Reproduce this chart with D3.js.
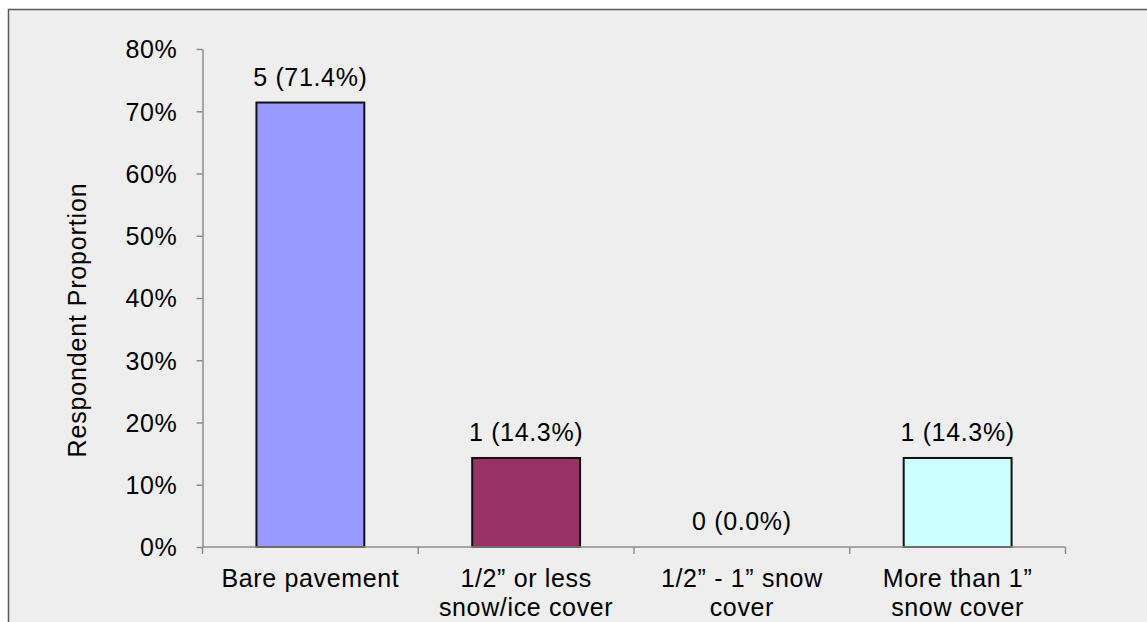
<!DOCTYPE html>
<html><head><meta charset="utf-8">
<script src="https://cdn.jsdelivr.net/npm/d3@7"></script>
<style>html,body{margin:0;padding:0;background:#fff;}svg{display:block;}</style>
</head><body>
<script>
const categories = [["Bare pavement"], ["1/2\u201d or less", "snow/ice cover"], ["1/2\u201d - 1\u201d snow", "cover"], ["More than 1\u201d", "snow cover"]];
const counts = [5, 1, 0, 1];
const proportions = [0.714, 0.143, 0.0, 0.143];
const barColors = ["#9999ff", "#993366", "#ccffff", "#ccffff"];
const yTicks = [0, 0.1, 0.2, 0.3, 0.4, 0.5, 0.6, 0.7, 0.8];

const W = 1147, H = 622;
const svg = d3.select("body").append("svg").attr("width", W).attr("height", H);
svg.append("rect").attr("x", 8.5).attr("y", 9.5).attr("width", W + 10).attr("height", H + 10)
  .attr("fill", "#eeeeee").attr("stroke", "#5a5a5a").attr("stroke-width", 1.5);

const x0 = 202.5, x1 = 1065.5, yTop = 49, yBot = 547;
const x = d3.scaleBand().domain(d3.range(categories.length)).range([x0, x1]).paddingInner(0.5).paddingOuter(0.25);
const y = d3.scaleLinear().domain([0, 0.8]).range([yBot, yTop]);
const font = "'Liberation Sans', Arial, sans-serif";
const fs = 25, ls = 0.65;

// y axis
const ya = svg.append("g").attr("transform", `translate(${x0},0)`)
  .call(d3.axisLeft(y).tickValues(yTicks).tickFormat(d3.format(".0%")).tickSizeInner(6).tickSizeOuter(0).tickPadding(19));
ya.select(".domain").attr("stroke", "#8c8c8c").attr("stroke-width", 1.5);
ya.selectAll(".tick line").attr("stroke", "#8c8c8c").attr("stroke-width", 1.5);
ya.selectAll(".tick text").attr("font-family", font).attr("font-size", fs).attr("letter-spacing", ls).attr("fill", "#000").attr("dy", "0.35em");

// bars
proportions.forEach((d, i) => {
  if (d > 0) {
    svg.append("rect").attr("x", x(i)).attr("y", y(d)).attr("width", x.bandwidth()).attr("height", yBot - y(d))
      .attr("fill", barColors[i]).attr("stroke", "#111").attr("stroke-width", 2);
  }
});

// x axis
const xs = d3.scaleLinear().domain([0, categories.length]).range([x0, x1]);
svg.append("line").attr("x1", x0).attr("x2", x1).attr("y1", yBot).attr("y2", yBot)
  .attr("stroke", "#8c8c8c").attr("stroke-width", 1.5);
d3.range(categories.length + 1).forEach(k => {
  svg.append("line").attr("x1", xs(k)).attr("x2", xs(k)).attr("y1", yBot).attr("y2", yBot + 7)
    .attr("stroke", "#8c8c8c").attr("stroke-width", 1.5);
});

// value labels
proportions.forEach((d, i) => {
  svg.append("text").attr("x", x(i) + x.bandwidth() / 2).attr("y", y(d) - 17)
    .attr("text-anchor", "middle").attr("font-family", font).attr("font-size", fs).attr("letter-spacing", ls).attr("fill", "#000")
    .text(`${counts[i]} (${(d * 100).toFixed(1)}%)`);
});

// category labels
categories.forEach((lines, i) => {
  const t = svg.append("text").attr("text-anchor", "middle").attr("font-family", font).attr("font-size", fs).attr("letter-spacing", ls).attr("fill", "#000");
  lines.forEach((l, j) => {
    t.append("tspan").attr("x", x(i) + x.bandwidth() / 2).attr("y", 587 + j * 29).text(l);
  });
});

// y title
svg.append("text").attr("transform", `translate(86,320) rotate(-90)`)
  .attr("text-anchor", "middle").attr("font-family", font).attr("font-size", fs).attr("letter-spacing", ls + 0.2).attr("fill", "#000")
  .text("Respondent Proportion");
</script>
</body></html>
